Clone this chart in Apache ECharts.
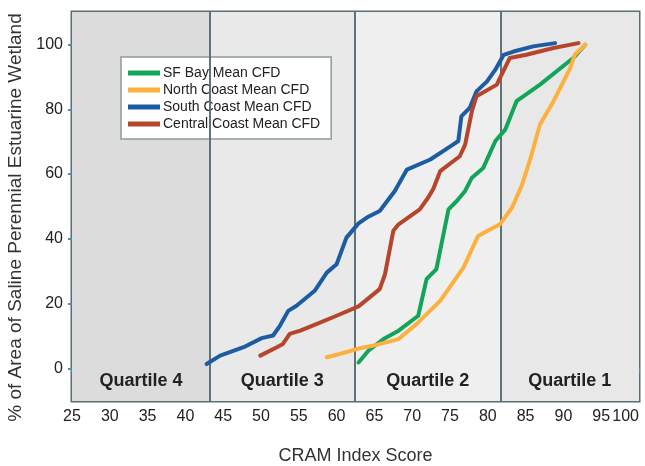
<!DOCTYPE html>
<html>
<head>
<meta charset="utf-8">
<script src="https://cdn.jsdelivr.net/npm/echarts@6/dist/echarts.min.js"></script>
<style>
  html, body { margin: 0; padding: 0; background: #fff; }
  #main { width: 645px; height: 466px; }
</style>
</head>
<body>
<div id="main"></div>
<script>
// CRAM score / % area pairs
var sfBay = [
  [62.9, 1.9], [64.2, 5.5], [66.2, 9.1], [68.2, 11.7], [70.8, 16.3], [71.9, 27.6],
  [73.2, 30.7], [74.8, 49.1], [75.9, 51.7], [77.0, 54.8], [77.9, 58.9], [79.4, 61.9],
  [81.0, 70.2], [82.3, 73.7], [83.8, 82.5], [86.9, 87.6], [91.3, 95.8], [92.9, 99.9]
];
var northCoast = [
  [58.7, 3.5], [60.4, 4.5], [63.1, 6.3], [64.9, 7.1], [68.2, 9.1], [70.6, 13.8],
  [73.7, 20.9], [76.8, 31.2], [78.7, 40.9], [81.6, 44.5], [83.2, 49.6], [84.5, 56.5],
  [85.6, 64.5], [86.9, 75.3], [88.7, 82.5], [89.8, 87.6], [90.9, 92.7], [91.5, 96.8], [92.9, 99.9]
];
var southCoast = [
  [42.8, 1.4], [44.6, 4.0], [47.7, 6.6], [50.1, 9.4], [51.6, 10.2], [52.5, 13.2],
  [53.6, 17.8], [54.7, 19.4], [57.1, 24.0], [58.7, 29.6], [60.0, 32.2], [61.3, 40.4],
  [62.9, 44.8], [64.0, 46.6], [65.7, 48.6], [67.7, 54.8], [69.3, 61.4], [72.4, 64.5],
  [75.4, 69.1], [76.1, 70.2], [76.5, 77.8], [77.6, 80.4], [78.5, 85.5], [79.9, 88.6],
  [81.0, 92.2], [82.1, 96.8], [83.4, 97.8], [86.0, 99.4], [88.9, 100.4]
];
var centralCoast = [
  [49.9, 4.0], [52.1, 6.6], [52.9, 7.6], [53.8, 10.7], [55.2, 11.7], [57.4, 13.8],
  [60.0, 16.3], [62.9, 19.2], [65.7, 24.5], [66.4, 29.1], [67.5, 42.5], [68.2, 44.5],
  [71.0, 49.1], [72.1, 52.7], [72.8, 55.5], [73.7, 60.9], [76.3, 65.5], [77.0, 69.1],
  [77.9, 79.4], [78.5, 84.0], [81.2, 87.6], [81.6, 89.6], [82.9, 95.8], [85.1, 96.8],
  [88.7, 98.9], [92.0, 100.4]
];

var seriesNames = ['SF Bay Mean CFD', 'North Coast Mean CFD', 'South Coast Mean CFD', 'Central Coast Mean CFD'];
var seriesColors = ['#12a55a', '#fcb13f', '#1d5ca2', '#b5462c'];
var seriesData = [sfBay, northCoast, southCoast, centralCoast];

var quartileNames = ['Quartile 4', 'Quartile 3', 'Quartile 2', 'Quartile 1'];
var quartileBreaks = [25, 43.25, 62.4, 81.7, 100];
var quartileFills = ['#dcdcdc', '#e9e9e9', '#efefef', '#e8e8e8'];
var yTicks = [0, 20, 40, 60, 80, 100];

var font = 'Liberation Sans, Arial, sans-serif';
var chart = echarts.init(document.getElementById('main'));

var areas = quartileNames.map(function (q, i) {
  return [
    { name: q, xAxis: quartileBreaks[i], itemStyle: { color: quartileFills[i] } },
    { xAxis: quartileBreaks[i + 1] }
  ];
});

var series = [{
  name: 'bg',
  type: 'line',
  data: [],
  silent: true,
  markArea: {
    silent: true,
    label: {
      show: true, position: 'insideBottom', distance: 11,
      color: '#222', fontWeight: 'bold', fontSize: 18, fontFamily: font
    },
    data: areas
  },
  markLine: {
    silent: true,
    symbol: 'none',
    label: { show: false },
    lineStyle: { color: '#5e7378', width: 2, type: 'solid' },
    data: quartileBreaks.slice(1, 4).map(function (v) { return { xAxis: v }; })
  }
}];

seriesNames.forEach(function (n, i) {
  series.push({
    name: n,
    type: 'line',
    data: seriesData[i],
    showSymbol: false,
    lineStyle: { width: 4, color: seriesColors[i], join: 'round', cap: 'round' },
    itemStyle: { color: seriesColors[i] },
    z: 5
  });
});

var option = {
  backgroundColor: '#fff',
  animation: false,
  grid: {
    left: 72, right: 6, top: 12, bottom: 65,
    outerBoundsMode: 'none',
    show: true, borderColor: '#5b6e74', borderWidth: 3,
    backgroundColor: 'transparent'
  },
  legend: {
    data: seriesNames,
    orient: 'vertical',
    left: 121, top: 57,
    backgroundColor: '#fff',
    borderColor: '#8a9a9e', borderWidth: 1.5,
    padding: [9, 11, 8, 7],
    icon: 'rect',
    itemWidth: 32, itemHeight: 5, itemGap: 3,
    textStyle: { fontSize: 14, color: '#222', fontFamily: font, padding: [0, 0, 0, -2] }
  },
  xAxis: {
    type: 'value',
    min: 25, max: 100, interval: 5,
    name: 'CRAM Index Score',
    nameLocation: 'middle', nameGap: 46,
    nameTextStyle: { fontSize: 18, color: '#333', fontFamily: font },
    axisLine: { show: false },
    axisTick: { show: true, length: 4, lineStyle: { color: '#4f8fa6', width: 2 } },
    axisLabel: { fontSize: 16, color: '#222', margin: 8, fontFamily: font, alignMaxLabel: 'right' },
    splitLine: { show: false }
  },
  yAxis: {
    type: 'value',
    min: -10, max: 110,
    name: '% of Area of Saline Perennial Estuarine Wetland',
    nameLocation: 'middle', nameGap: 44,
    nameTextStyle: { fontSize: 19, color: '#333', fontFamily: font, padding: [0, 22, 0, 0] },
    axisLine: { show: false },
    axisTick: { show: true, length: 4, customValues: yTicks, lineStyle: { color: '#4f8fa6', width: 2 } },
    axisLabel: { fontSize: 16, color: '#222', margin: 9, customValues: yTicks, fontFamily: font },
    splitLine: { show: false }
  },
  series: series
};

chart.setOption(option);
</script>
</body>
</html>
